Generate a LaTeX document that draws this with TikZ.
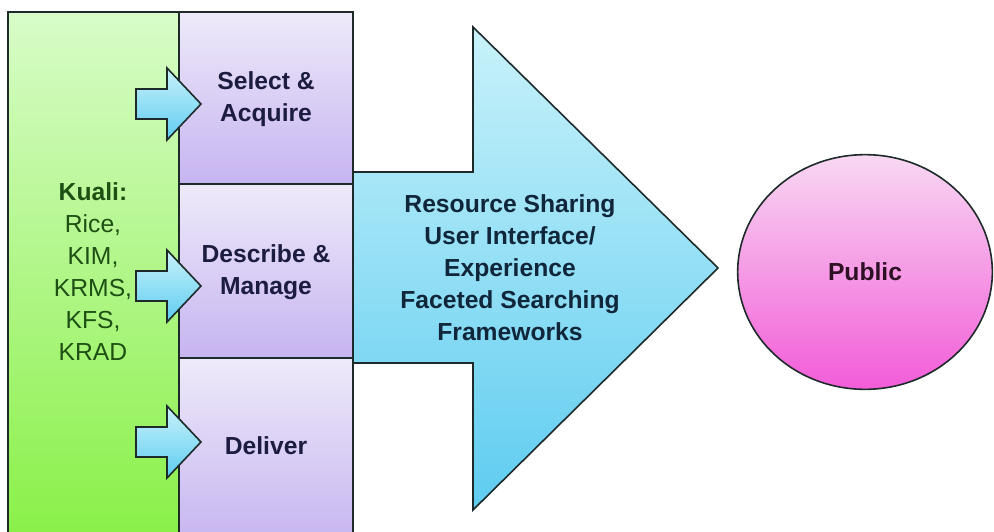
\documentclass[tikz,border=0pt]{standalone}
\usepackage{fontspec}
\setmainfont{Liberation Sans}
\usetikzlibrary{positioning}
\usetikzlibrary{shapes.geometric}

\definecolor{edge}{HTML}{1E2A2A}
\definecolor{kualitop}{HTML}{D8FCC8}
\definecolor{kualibot}{HTML}{88F046}
\definecolor{kualiink}{HTML}{1E5014}
\definecolor{stagetop}{HTML}{EEEAFA}
\definecolor{stagebot}{HTML}{C6B4F0}
\definecolor{stageink}{HTML}{1C1C40}
\definecolor{bluetop}{HTML}{C8F2FA}
\definecolor{bluebot}{HTML}{5ECCF0}
\definecolor{blueink}{HTML}{10263A}
\definecolor{pinktop}{HTML}{F8D8F2}
\definecolor{pinkbot}{HTML}{F25CD8}
\definecolor{pinkink}{HTML}{2E1024}

\begin{document}
\begin{tikzpicture}
  [x=0.75pt,y=-0.75pt,
  kualibox/.style={draw=edge,line width=1.2pt,top color=kualitop,bottom color=kualibot},
  stagebox/.style={draw=edge,line width=1.2pt,top color=stagetop,bottom color=stagebot},
  bluearrow/.style={draw=edge,line width=1.2pt,top color=bluetop,bottom color=bluebot,line join=miter},
  pinkball/.style={ellipse,draw=edge,line width=1.2pt,top color=pinktop,bottom color=pinkbot,
    minimum width=191pt,minimum height=176pt,inner sep=0pt},
  txt/.style={align=center,font=\fontsize{18.5}{24}\selectfont\bfseries}]
  \useasboundingbox (0,0) rectangle (994,531);
  \clip (0,0) rectangle (994,531);

  \draw [kualibox] (8,12) rectangle (179,545);

  \draw [stagebox] (179,12) rectangle (353,184);
  \draw [stagebox] (179,184) rectangle (353,358);
  \draw [stagebox] (179,358) rectangle (353,545);

  \foreach \y in {104,286,442}
    \draw [bluearrow] (136,\y-15) -- (167,\y-15) -- (167,\y-36) -- (201,\y)
      -- (167,\y+36) -- (167,\y+15) -- (136,\y+15) -- cycle;

  \draw [bluearrow] (353,172) -- (473,172) -- (473,27) -- (718,268)
    -- (473,510) -- (473,363) -- (353,363) -- cycle;

  \node[txt,text=kualiink] (kuali) at (93,272)
    {Kuali:\\\mdseries Rice,\\\mdseries KIM,\\\mdseries KRMS,\\\mdseries KFS,\\\mdseries KRAD};

  \node[txt,text=stageink] (select) at (266,99) {Select \&\\Acquire};
  \node[txt,text=stageink] (describe) at (266,272) {Describe \&\\Manage};
  \node[txt,text=stageink] (deliver) at (266,446) {Deliver};

  \node[txt,text=blueink] (share) at (510,268)
    {Resource Sharing\\User Interface/\\Experience\\Faceted Searching\\Frameworks};

  \node[pinkball,txt,text=pinkink] (public) at (865,272) {Public};
\end{tikzpicture}
\end{document}
